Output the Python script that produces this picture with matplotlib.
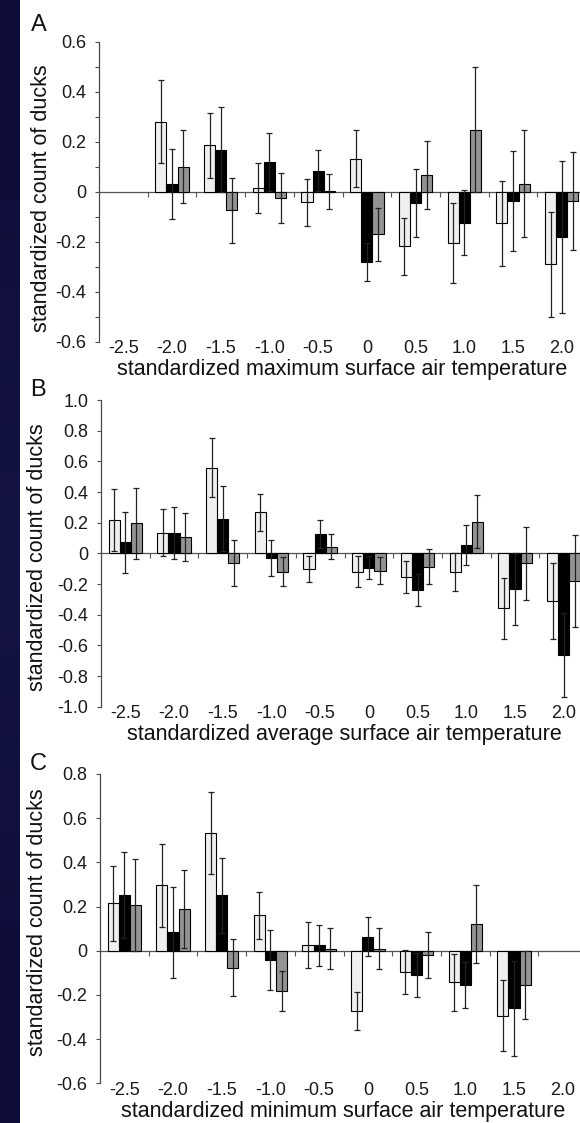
import numpy as np
import matplotlib
matplotlib.use("Agg")
import matplotlib.pyplot as plt
from matplotlib.ticker import FuncFormatter, MultipleLocator

plt.rcParams["font.family"] = ["Liberation Sans", "DejaVu Sans"]

nan = np.nan

# temperature classes on the x axis
temp_labels = ["-2.5", "-2.0", "-1.5", "-1.0", "-0.5", "0", "0.5", "1.0", "1.5", "2.0"]

# A: maximum surface air temperature
light_a = [nan, 0.28, 0.185, 0.015, -0.042, 0.132, -0.218, -0.204, -0.127, -0.29]
light_a_err = [nan, 0.167, 0.13, 0.10, 0.094, 0.115, 0.114, 0.16, 0.17, 0.21]
black_a = [nan, 0.03, 0.168, 0.119, 0.083, -0.281, -0.046, -0.125, -0.036, -0.181]
black_a_err = [nan, 0.139, 0.17, 0.115, 0.082, 0.077, 0.135, 0.13, 0.2, 0.305]
gray_a = [nan, 0.10, -0.075, -0.025, 0.002, -0.171, 0.066, 0.247, 0.032, -0.038]
gray_a_err = [nan, 0.145, 0.13, 0.10, 0.07, 0.105, 0.135, 0.25, 0.215, 0.195]

# B: average surface air temperature
light_b = [0.217, 0.135, 0.559, 0.267, -0.10, -0.12, -0.152, -0.12, -0.359, -0.311]
light_b_err = [0.2, 0.155, 0.19, 0.12, 0.085, 0.1, 0.105, 0.125, 0.2, 0.25]
black_b = [0.072, 0.13, 0.226, -0.028, 0.126, -0.093, -0.239, 0.057, -0.235, -0.663]
black_b_err = [0.2, 0.17, 0.213, 0.118, 0.09, 0.075, 0.105, 0.13, 0.235, 0.276]
gray_b = [0.196, 0.104, -0.065, -0.12, 0.043, -0.113, -0.087, 0.207, -0.065, -0.18]
gray_b_err = [0.23, 0.157, 0.15, 0.093, 0.08, 0.09, 0.115, 0.175, 0.24, 0.3]

# C: minimum surface air temperature
light_c = [0.214, 0.296, 0.534, 0.161, 0.024, -0.273, -0.097, -0.143, -0.294, nan]
light_c_err = [0.17, 0.187, 0.185, 0.106, 0.104, 0.085, 0.1, 0.13, 0.16, nan]
black_c = [0.252, 0.083, 0.252, -0.042, 0.024, 0.063, -0.11, -0.155, -0.261, nan]
black_c_err = [0.193, 0.207, 0.17, 0.134, 0.094, 0.088, 0.1, 0.105, 0.215, nan]
gray_c = [0.207, 0.189, -0.077, -0.181, 0.009, 0.009, -0.02, 0.121, -0.155, nan]
gray_c_err = [0.208, 0.177, 0.128, 0.09, 0.092, 0.092, 0.105, 0.178, 0.155, nan]

W, H = 580, 1123
fig = plt.figure(figsize=(W / 100, H / 100), dpi=100)
fig.patch.set_facecolor("white")

# dark strip down the left edge
band = fig.add_axes([0, 0, 20 / W, 1])
band.imshow(np.linspace(0, 1, 50).reshape(-1, 1), aspect="auto",
            cmap=matplotlib.colors.LinearSegmentedColormap.from_list(
                "b", ["#0e0c38", "#141444", "#0e0c38"]),
            extent=[0, 1, 0, 1])
band.axis("off")

fills = ["#efefef", "#000000", "#939393"]
bw = 0.228
axis_col = "#4a4a4a"

panels = [
    dict(tag="A", left=99, top=41.7, hgt=300, ylim=(-0.6, 0.6), minor=True,
         series=[(light_a, light_a_err), (black_a, black_a_err), (gray_a, gray_a_err)],
         xlabel="standardized maximum surface air temperature", ly=0.477, lx=-0.097,
         tag_xy=(31, 14)),
    dict(tag="B", left=101, top=400, hgt=306.7, ylim=(-1.0, 1.0), minor=False,
         series=[(light_b, light_b_err), (black_b, black_b_err), (gray_b, gray_b_err)],
         xlabel="standardized average surface air temperature", ly=0.487, lx=-0.109,
         tag_xy=(30, 379)),
    dict(tag="C", left=100, top=774, hgt=309.3, ylim=(-0.6, 0.8), minor=False,
         series=[(light_c, light_c_err), (black_c, black_c_err), (gray_c, gray_c_err)],
         xlabel="standardized minimum surface air temperature", ly=0.522, lx=-0.107,
         tag_xy=(30, 753)),
]

x = np.arange(len(temp_labels))

for p in panels:
    ax = fig.add_axes([p["left"] / W, 1 - (p["top"] + p["hgt"]) / H, 487 / W, p["hgt"] / H])
    ax.set_xlim(-0.5, 9.5)
    ax.set_ylim(*p["ylim"])

    for k, (vals, errs) in enumerate(p["series"]):
        ax.bar(x + (k - 1) * bw, vals, width=bw, color=fills[k],
               edgecolor="black", linewidth=0.8, zorder=2)
        ax.errorbar(x + (k - 1) * bw, vals, yerr=errs, fmt="none",
                    ecolor="#222222", elinewidth=0.9, capsize=2.5,
                    capthick=0.9, zorder=3)

    # zero line with small ticks between the classes
    ax.axhline(0, color="#555555", lw=0.9, zorder=1)
    ax.plot(x[:-1] + 0.5, np.zeros(len(x) - 1), ls="none", marker=3,
            markersize=3.5, color="#555555", mew=0.8, zorder=1)

    for s in ["top", "right", "bottom"]:
        ax.spines[s].set_visible(False)
    ax.spines["left"].set_color(axis_col)
    ax.spines["left"].set_linewidth(0.9)

    ax.yaxis.set_major_locator(MultipleLocator(0.2))
    if p["minor"]:
        ax.yaxis.set_minor_locator(MultipleLocator(0.1))
    ax.yaxis.set_major_formatter(FuncFormatter(
        lambda v, pos: "0" if abs(v) < 1e-9 else f"{v:.1f}"))
    ax.tick_params(axis="y", which="both", direction="out", length=3,
                   width=0.8, color=axis_col, labelsize=13, pad=6,
                   labelcolor="#1a1a1a")

    ax.set_xticks(x)
    ax.set_xticklabels(temp_labels)
    ax.tick_params(axis="x", length=0, labelsize=13, pad=-1, labelcolor="#1a1a1a")

    ax.set_xlabel(p["xlabel"], fontsize=15.5, labelpad=1.5, color="#111111")
    ax.set_ylabel("standardized count of ducks", fontsize=15.5, color="#111111")
    ax.yaxis.set_label_coords(p["lx"], p["ly"])

    fig.text(p["tag_xy"][0] / W, 1 - p["tag_xy"][1] / H, p["tag"],
             fontsize=17, ha="left", va="top", color="#111111")

fig.savefig("out.png", dpi=100)
